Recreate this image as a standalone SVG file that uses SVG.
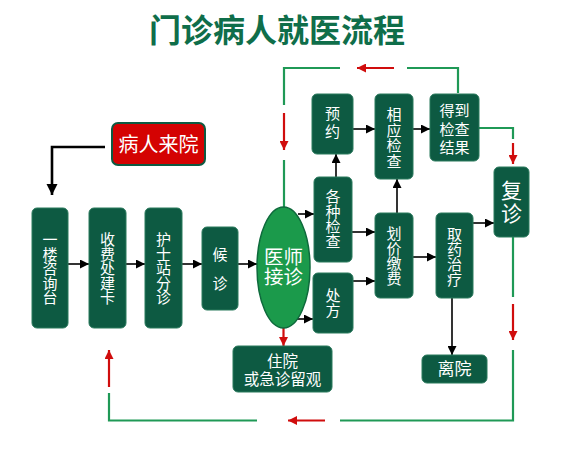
<svg xmlns="http://www.w3.org/2000/svg" width="572" height="449" viewBox="0 0 572 449">
<style>
.box{fill:#0d5a42;stroke:#2b7a5d;stroke-width:1}
.t{fill:#fff;font-family:"Noto Sans CJK SC","Noto Sans",sans-serif;font-size:15px;text-anchor:middle}
.blk{stroke:#000;stroke-width:1.6;fill:none;marker-end:url(#ab)}
.red{stroke:#d00d0d;stroke-width:2.2;fill:none;marker-end:url(#ar)}
.grn{stroke:#1f9956;stroke-width:2.2;fill:none}
</style>
<defs>
<marker id="ab" viewBox="0 0 10 10" refX="10" refY="5" markerWidth="9" markerHeight="9" orient="auto" markerUnits="userSpaceOnUse"><path d="M0,0 L10,5 L0,10z" fill="#000"/></marker>
<marker id="ar" viewBox="0 0 10 10" refX="10" refY="5" markerWidth="10" markerHeight="9" orient="auto" markerUnits="userSpaceOnUse"><path d="M0,0 L10,5 L0,10z" fill="#d00d0d"/></marker>
<marker id="abig" viewBox="0 0 10 10" refX="10" refY="5" markerWidth="11" markerHeight="13" orient="auto" markerUnits="userSpaceOnUse"><path d="M0,0 L10,5 L0,10z" fill="#000"/></marker>
</defs>
<rect width="572" height="449" fill="#fff"/>
<text x="277" y="42" style="font-family:'Noto Sans CJK SC',sans-serif;font-size:32px;font-weight:bold;fill:#0f6e4a;text-anchor:middle">门诊病人就医流程</text>

<g id="connectors">
<path d="M105,147 H52 V195" style="stroke:#000;stroke-width:2.6;fill:none;marker-end:url(#abig)"/>
<line class="blk" x1="68" y1="264" x2="89" y2="264"/>
<line class="blk" x1="126" y1="264" x2="145" y2="264"/>
<line class="blk" x1="182" y1="264" x2="202" y2="264"/>
<line class="blk" x1="238" y1="264" x2="257" y2="264"/>
<line class="blk" x1="298" y1="214" x2="314" y2="214"/>
<line class="blk" x1="297" y1="319" x2="313" y2="319"/>
<line class="blk" x1="336" y1="177" x2="336" y2="154"/>
<line class="blk" x1="353" y1="129" x2="375" y2="129"/>
<line class="blk" x1="413" y1="129" x2="430" y2="129"/>
<line class="blk" x1="352" y1="232" x2="375" y2="232"/>
<line class="blk" x1="353" y1="281" x2="375" y2="281"/>
<line class="blk" x1="397" y1="213" x2="397" y2="179"/>
<line class="blk" x1="413" y1="257" x2="436" y2="257"/>
<line class="blk" x1="473" y1="223" x2="494" y2="223"/>
<line class="blk" x1="452" y1="298" x2="452" y2="355"/>

<path class="grn" d="M458,93 V68 H407"/>
<line class="red" x1="394" y1="68" x2="357" y2="68"/>
<path class="grn" d="M340,68 H284 V105"/>
<line class="red" x1="284" y1="113" x2="284" y2="150"/>
<path class="grn" d="M284,160 V207"/>
<path class="grn" d="M479,128 H513 V139"/>
<line class="red" x1="513" y1="143" x2="513" y2="164"/>
<path class="grn" d="M513,237 V297"/>
<line class="red" x1="513" y1="304" x2="513" y2="340"/>
<path class="grn" d="M513,350 V420.5 H340"/>
<line class="red" x1="325" y1="420.5" x2="288" y2="420.5"/>
<path class="grn" d="M257,420.5 H109 V393"/>
<line class="red" x1="109" y1="387" x2="109" y2="350"/>
<line class="red" x1="283.5" y1="328" x2="283.5" y2="346"/>
</g>

<g id="n-laiyuan"><rect x="112" y="123" width="93" height="42" rx="6" fill="#d40202" stroke="#0d5a42" stroke-width="2"/><text class="t" x="158.5" y="152" style="font-size:20px">病人来院</text></g>

<g id="n-zixun"><rect class="box" x="32" y="208" width="36" height="120" rx="5"/><text class="t"><tspan x="50" y="245">一</tspan><tspan x="50" y="259.5">楼</tspan><tspan x="50" y="274">咨</tspan><tspan x="50" y="288.5">询</tspan><tspan x="50" y="303">台</tspan></text></g>
<g id="n-shoufei"><rect class="box" x="89" y="208" width="37" height="120" rx="5"/><text class="t"><tspan x="107.5" y="245">收</tspan><tspan x="107.5" y="259.5">费</tspan><tspan x="107.5" y="274">处</tspan><tspan x="107.5" y="288.5">建</tspan><tspan x="107.5" y="303">卡</tspan></text></g>
<g id="n-hushi"><rect class="box" x="145" y="208" width="37" height="120" rx="5"/><text class="t"><tspan x="163.5" y="245">护</tspan><tspan x="163.5" y="259.5">士</tspan><tspan x="163.5" y="274">站</tspan><tspan x="163.5" y="288.5">分</tspan><tspan x="163.5" y="303">诊</tspan></text></g>
<g id="n-houzhen"><rect class="box" x="202" y="227" width="36" height="83" rx="5"/><text class="t"><tspan x="220" y="260">候</tspan><tspan x="220" y="289">诊</tspan></text></g>

<g id="n-yishi"><ellipse cx="283.5" cy="267.5" rx="26.5" ry="60.5" fill="#1b9a4b" stroke="#0e6a3c" stroke-width="1.5"/><text class="t" style="font-size:19.5px"><tspan x="283.5" y="264">医师</tspan><tspan x="283.5" y="284">接诊</tspan></text></g>

<g id="n-yuyue"><rect class="box" x="312" y="94" width="41" height="60" rx="5"/><text class="t"><tspan x="332.5" y="119">预</tspan><tspan x="332.5" y="137">约</tspan></text></g>
<g id="n-xiangying"><rect class="box" x="375" y="94" width="38" height="85" rx="5"/><text class="t"><tspan x="394" y="120">相</tspan><tspan x="394" y="135.5">应</tspan><tspan x="394" y="151">检</tspan><tspan x="394" y="166.5">查</tspan></text></g>
<g id="n-jieguo"><rect class="box" x="430" y="94" width="49" height="67" rx="5"/><text class="t"><tspan x="454.5" y="116">得到</tspan><tspan x="454.5" y="134.5">检查</tspan><tspan x="454.5" y="153">结果</tspan></text></g>
<g id="n-fuzhen"><rect class="box" x="494" y="167" width="35" height="70" rx="5"/><text class="t" style="font-size:21px"><tspan x="511.5" y="198">复</tspan><tspan x="511.5" y="221">诊</tspan></text></g>
<g id="n-jiancha"><rect class="box" x="314" y="177" width="38" height="85" rx="5"/><text class="t"><tspan x="333" y="202">各</tspan><tspan x="333" y="217">种</tspan><tspan x="333" y="232">检</tspan><tspan x="333" y="247">查</tspan></text></g>
<g id="n-chufang"><rect class="box" x="313" y="273" width="40" height="60" rx="5"/><text class="t"><tspan x="333" y="301">处</tspan><tspan x="333" y="316">方</tspan></text></g>
<g id="n-huajia"><rect class="box" x="375" y="213" width="38" height="85" rx="5"/><text class="t"><tspan x="394" y="238.5">划</tspan><tspan x="394" y="253.5">价</tspan><tspan x="394" y="268.5">缴</tspan><tspan x="394" y="283.5">费</tspan></text></g>
<g id="n-quyao"><rect class="box" x="436" y="213" width="37" height="85" rx="5"/><text class="t"><tspan x="454.5" y="239.5">取</tspan><tspan x="454.5" y="254.5">药</tspan><tspan x="454.5" y="269.5">治</tspan><tspan x="454.5" y="284.5">疗</tspan></text></g>
<g id="n-liyuan"><rect class="box" x="422" y="355" width="65" height="28" rx="5"/><text class="t" x="454.5" y="375" style="font-size:17px">离院</text></g>
<g id="n-zhuyuan"><rect class="box" x="233" y="346" width="99" height="46" rx="5"/><text class="t" style="font-size:15.5px"><tspan x="282.5" y="367">住院</tspan><tspan x="282.5" y="385">或急诊留观</tspan></text></g>
</svg>
